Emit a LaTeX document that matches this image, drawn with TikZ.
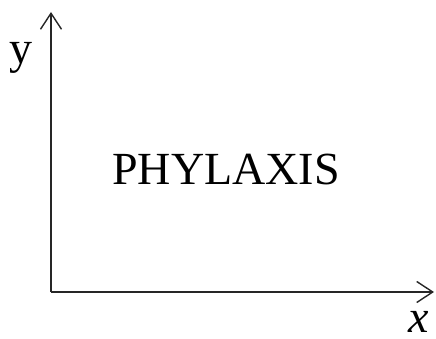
\documentclass[tikz,border=0pt]{standalone}
\usepackage{fontspec}
\setmainfont{Liberation Serif}
\usetikzlibrary{arrows.meta}
\begin{document}
\begin{tikzpicture}[x=1pt,y=1pt,
  axis/.style={line width=1.8pt,draw=black!85,-{Straight Barb[length=16pt,width=21pt,line width=1.4pt]}},
  lbl/.style={font=\fontsize{46}{50}\selectfont,inner sep=0pt,anchor=base}]
\useasboundingbox (0,0) rectangle (436,338);
\coordinate (O) at (51,46);
\coordinate (Y) at (51,326);
\coordinate (X) at (434,46);
\draw[axis] (O) -- (Y);
\draw[axis] (O) -- (X);
\node[lbl] (ylab) at (21,274) {y};
\node[lbl,text depth=0pt] (xlab) at (419,6) {\itshape x};
\node[lbl] (title) at (226,154) {PHYLAXIS};
\end{tikzpicture}
\end{document}
